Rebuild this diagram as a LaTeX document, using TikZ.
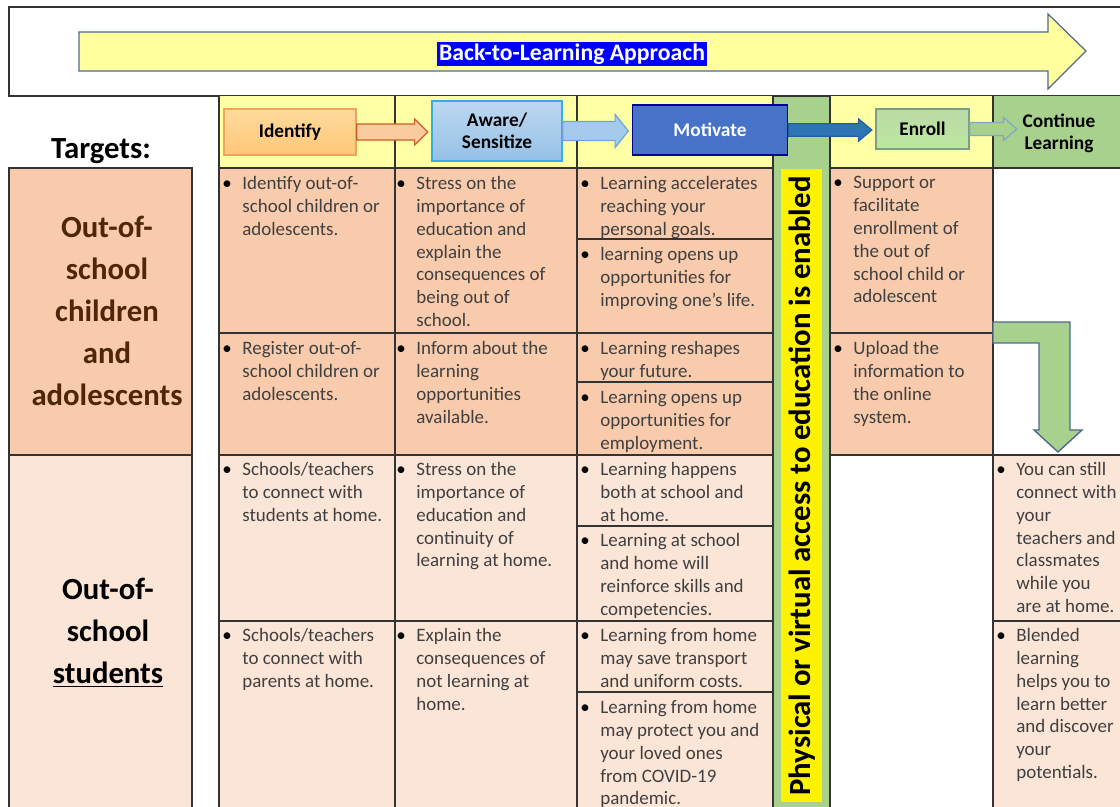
\documentclass[tikz,border=0pt]{standalone}
\usepackage{fontspec}
\setmainfont{Carlito}
\usetikzlibrary{calc}

\definecolor{bannerfill}{HTML}{FFFF9E}
\definecolor{bannerline}{HTML}{4F6A8F}
\definecolor{hdryellow}{HTML}{FFFFA6}
\definecolor{peach}{HTML}{F8CBAD}
\definecolor{lightpeach}{HTML}{FBE5D6}
\definecolor{leafgreen}{HTML}{A9D18E}
\definecolor{bodytext}{HTML}{404040}
\definecolor{labelbrown}{HTML}{4E2609}
\definecolor{motblue}{HTML}{4673C5}
\definecolor{idtop}{HTML}{FFDA9C}
\definecolor{idbot}{HTML}{FFC778}
\definecolor{idline}{HTML}{EFA45C}
\definecolor{idarrow}{HTML}{F9CB9E}
\definecolor{idarrowline}{HTML}{CC5F22}
\definecolor{awtop}{HTML}{BCD8F1}
\definecolor{awbot}{HTML}{96C0E6}
\definecolor{awline}{HTML}{33AEE6}
\definecolor{awarrow}{HTML}{A6CAEB}
\definecolor{awarrowline}{HTML}{6AA6DA}
\definecolor{moarrow}{HTML}{2E75B6}
\definecolor{moarrowline}{HTML}{235E9C}
\definecolor{enline}{HTML}{7A9E86}
\definecolor{enarrowline}{HTML}{7FA7C9}

% bullet hanging to the left of the first line
\newcommand{\bu}{\hspace*{-11.4pt}\makebox[11.4pt][l]{\textcolor{black}{\textbullet}}}

% block arrow between two stage nodes: style, from, to, body half, head half
\newcommand{\blockarrow}[5]{%
  \draw[#1] let \p1=(#2.east), \p2=(#3.west) in
    (\x1,\y1+#4) -- (\x2-9.5pt,\y1+#4) -- (\x2-9.5pt,\y1+#5) -- (\x2-2pt,\y1)
    -- (\x2-9.5pt,\y1-#5) -- (\x2-9.5pt,\y1-#4) -- (\x1,\y1-#4) -- cycle;}

\tikzset{
  tabline/.style={draw=black!80, line width=0.6pt},
  cellitem/.style={anchor=north west, inner sep=0pt, align=left, text=bodytext,
    font=\fontsize{10.8}{13}\selectfont},
  target/.style={align=center, inner sep=0pt, font=\fontsize{17.5}{23.9}\selectfont\bfseries},
  stage/.style={line width=0.8pt, align=center, inner sep=0pt,
    font=\fontsize{11}{12.5}\selectfont\bfseries},
}

\begin{document}
\begin{tikzpicture}[x=0.02cm, y=-0.02cm]
\useasboundingbox (0,0) rectangle (1120,807);
\clip (0,0) rectangle (1120,807);

% banner with the big arrow
\draw[tabline, fill=white] (9,7) rectangle (1130,96);
\draw[draw=bannerline, fill=bannerfill, line width=0.7pt] (79,32) -- (1048,32) -- (1048,14) -- (1086,51)
  -- (1048,89) -- (1048,71) -- (79,71) -- cycle;
\node[fill=blue, text=white, inner xsep=1pt, inner ysep=0.5pt, text height=10pt, text depth=3pt,
  font=\fontsize{13.5}{15}\selectfont\bfseries] (title) at (572,54) {Back-to-Learning Approach};

% backgrounds
\fill[hdryellow] (219,96) rectangle (993,168);
\fill[leafgreen] (993,96) rectangle (1130,168);
\fill[peach] (219,168) rectangle (993,455);
\fill[lightpeach] (219,455) rectangle (830,812);
\fill[lightpeach] (993,455) rectangle (1130,812);
\fill[peach] (9,168) rectangle (192,455);
\fill[lightpeach] (9,455) rectangle (192,812);

% target column
\draw[tabline] (9,168) rectangle (192,455);
\draw[tabline] (9,455) rectangle (192,812);
\node[target] (targets) at (101,151) {Targets:};
\node[target, text=labelbrown] (oosc) at (107,311) {Out-of-\\school\\children\\and\\adolescents};
\node[target] (ooss) at (108,633) {Out-of-\\school\\\underline{students}};

% table rules
\foreach \y in {168,455} \draw[tabline] (219,\y) -- (1130,\y);
\draw[tabline] (219,333) -- (993,333);
\draw[tabline] (219,621) -- (773,621);
\draw[tabline] (993,621) -- (1130,621);
\foreach \y in {239,382,526,692} \draw[tabline] (577,\y) -- (773,\y);
\foreach \x in {219,395,577,993} \draw[tabline] (\x,96) -- (\x,812);

% access bar
\draw[tabline, fill=leafgreen] (773,96) rectangle (830,812);
\fill[yellow] (781,169) rectangle (822,802);
\node[rotate=90, inner sep=0pt, font=\fontsize{17.5}{20}\selectfont\bfseries] (access) at (802,486)
  {Physical or virtual access to education is enabled};

% stages
\node[stage, draw=idline, top color=idtop, bottom color=idbot,
  minimum width=2.64cm, minimum height=0.92cm] (identify) at (290,132) {Identify};
\node[stage, draw=awline, top color=awtop, bottom color=awbot,
  minimum width=2.6cm, minimum height=1.2cm] (aware) at (497,131) {Aware/\\Sensitize};
\node[stage, draw=blue!60!black, fill=motblue, text=white,
  minimum width=3.1cm, minimum height=1.0cm] (motivate) at (710,130) {Motivate};
\node[stage, draw=enline, top color=leafgreen!80, bottom color=leafgreen!110!black!95,
  minimum width=1.86cm, minimum height=0.8cm] (enroll) at (922.5,129) {Enroll};
\node[stage, inner sep=1pt] (continue) at (1059,133) {Continue\\Learning};

\blockarrow{draw=idarrowline, fill=idarrow, line width=0.7pt}{identify}{aware}{4.6pt}{7.4pt}
\blockarrow{draw=awarrowline, fill=awarrow, line width=0.7pt}{aware}{motivate}{5.4pt}{9.4pt}
\blockarrow{draw=moarrowline, fill=moarrow, line width=0.7pt}{motivate}{enroll}{3.6pt}{6.3pt}
\blockarrow{draw=enarrowline, fill=leafgreen, line width=0.7pt}{enroll}{continue}{3.7pt}{6.5pt}

% bent arrow into the students rows
\draw[draw=bannerline, fill=leafgreen, line width=0.8pt] (993,322) -- (1070,322) -- (1070,430) -- (1082,430)
  -- (1058,452) -- (1034,430) -- (1039,430) -- (1039,343) -- (993,343) -- cycle;

% identify column
\node[cellitem] (id1) at (242,176) {\bu Identify out-of-\\school children or\\adolescents.};
\node[cellitem] (id2) at (242,341) {\bu Register out-of-\\school children or\\adolescents.};
\node[cellitem] (id3) at (242,462) {\bu Schools/teachers\\to connect with\\students at home.};
\node[cellitem] (id4) at (242,628) {\bu Schools/teachers\\to connect with\\parents at home.};

% aware column
\node[cellitem] (aw1) at (416,176) {\bu Stress on the\\importance of\\education and\\explain the\\consequences of\\being out of\\school.};
\node[cellitem] (aw2) at (416,341) {\bu Inform about the\\learning\\opportunities\\available.};
\node[cellitem] (aw3) at (416,462) {\bu Stress on the\\importance of\\education and\\continuity of\\learning at home.};
\node[cellitem] (aw4) at (416,628) {\bu Explain the\\consequences of\\not learning at\\home.};

% motivate column
\node[cellitem] (mo1) at (600,176) {\bu Learning accelerates\\reaching your\\personal goals.};
\node[cellitem] (mo2) at (600,247) {\bu learning opens up\\opportunities for\\improving one’s life.};
\node[cellitem] (mo3) at (600,341) {\bu Learning reshapes\\your future.};
\node[cellitem] (mo4) at (600,390) {\bu Learning opens up\\opportunities for\\employment.};
\node[cellitem] (mo5) at (600,462) {\bu Learning happens\\both at school and\\at home.};
\node[cellitem] (mo6) at (600,533) {\bu Learning at school\\and home will\\reinforce skills and\\competencies.};
\node[cellitem] (mo7) at (600,628) {\bu Learning from home\\may save transport\\and uniform costs.};
\node[cellitem] (mo8) at (600,700) {\bu Learning from home\\may protect you and\\your loved ones\\from COVID-19\\pandemic.};

% enroll column
\node[cellitem] (en1) at (853,176) {\bu Support or\\facilitate\\enrollment of\\the out of\\school child or\\adolescent};
\node[cellitem] (en2) at (853,341) {\bu Upload the\\information to\\the online\\system.};

% continue column
\node[cellitem] (co1) at (1016,462) {\bu You can still\\connect with\\your\\teachers and\\classmates\\while you\\are at home.};
\node[cellitem] (co2) at (1016,628) {\bu Blended\\learning\\helps you to\\learn better\\and discover\\your\\potentials.};
\end{tikzpicture}
\end{document}
